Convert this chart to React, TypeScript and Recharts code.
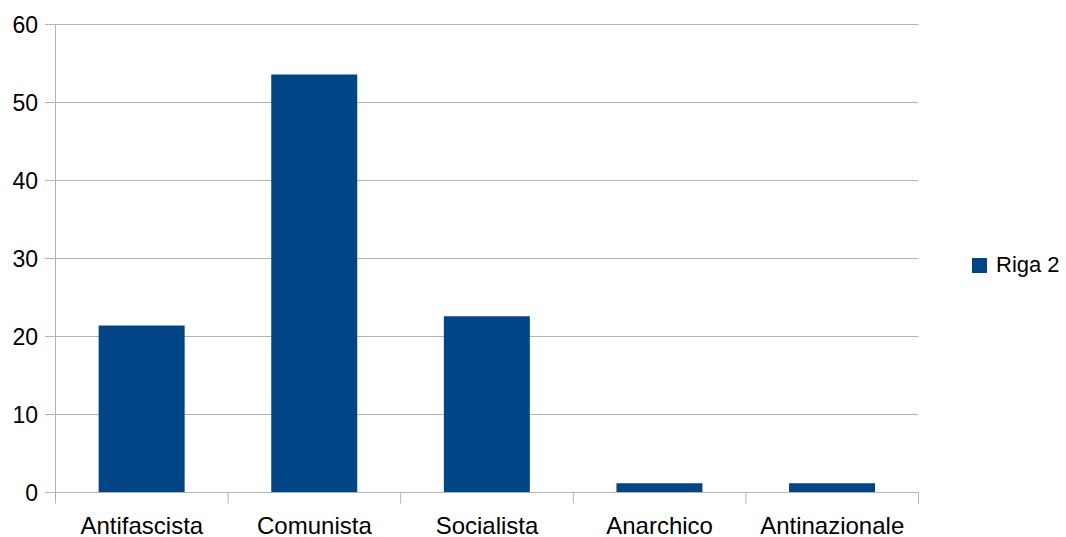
import React from "react";
import { BarChart, Bar, XAxis, YAxis, CartesianGrid, Legend } from "recharts";

const categories = ["Antifascista", "Comunista", "Socialista", "Anarchico", "Antinazionale"];
const riga2 = [21.4, 53.6, 22.6, 1.2, 1.2];
const yTicks = [0, 10, 20, 30, 40, 50, 60];

const data = categories.map((c, i) => ({ name: c, v: riga2[i] }));

const W = 1066;
const H = 537;
const M = { top: 24.5, right: 147.5, bottom: 0, left: 0 };
const Y_W = 55.5;
const X_H = 44.5;
const GRID = "#b3b3b3";
const FONT = "'Liberation Sans', Arial, sans-serif";
const band = (W - M.right - M.left - Y_W) / categories.length;

const XTick = (props: any) => {
  const { x, y, payload, index } = props;
  return (
    <g>
      <line x1={x - band / 2} x2={x - band / 2} y1={y} y2={y + 11} stroke={GRID} strokeWidth={1} />
      {index === categories.length - 1 && (
        <line x1={x + band / 2} x2={x + band / 2} y1={y} y2={y + 11} stroke={GRID} strokeWidth={1} />
      )}
      <text x={x} y={y + 41} textAnchor="middle" fill="#000" fontSize={24} fontFamily={FONT}>
        {payload.value}
      </text>
    </g>
  );
};

const LegendContent = () => (
  <div style={{ display: "flex", alignItems: "center", fontFamily: FONT, fontSize: 22, color: "#000" }}>
    <span style={{ display: "inline-block", width: 15, height: 15, background: "#004586", marginRight: 9 }} />
    <span>Riga 2</span>
  </div>
);

export default function App() {
  return (
    <div style={{ position: "absolute", left: 0, top: 0, background: "#fff" }}>
      <BarChart width={W} height={H} data={data} margin={M} barCategoryGap="25%">
        <CartesianGrid vertical={false} stroke={GRID} />
        <XAxis
          dataKey="name"
          height={X_H}
          axisLine={{ stroke: GRID }}
          tickLine={false}
          tickSize={0}
          tickMargin={0}
          interval={0}
          tick={<XTick />}
        />
        <YAxis
          width={Y_W}
          domain={[0, 60]}
          ticks={yTicks}
          interval={0}
          axisLine={{ stroke: GRID }}
          tickLine={{ stroke: GRID }}
          tickSize={10.5}
          tickMargin={7}
          tick={{ fill: "#000", fontSize: 23, fontFamily: FONT }}
        />
        <YAxis
          yAxisId="r"
          orientation="right"
          width={0}
          axisLine={{ stroke: GRID }}
          tick={false}
          tickLine={false}
        />
        <Legend
          layout="horizontal"
          align="center"
          verticalAlign="middle"
          content={<LegendContent />}
          wrapperStyle={{ left: 972, top: 252, width: "auto" }}
        />
        <Bar dataKey="v" name="Riga 2" fill="#004586" isAnimationActive={false} />
      </BarChart>
    </div>
  );
}
